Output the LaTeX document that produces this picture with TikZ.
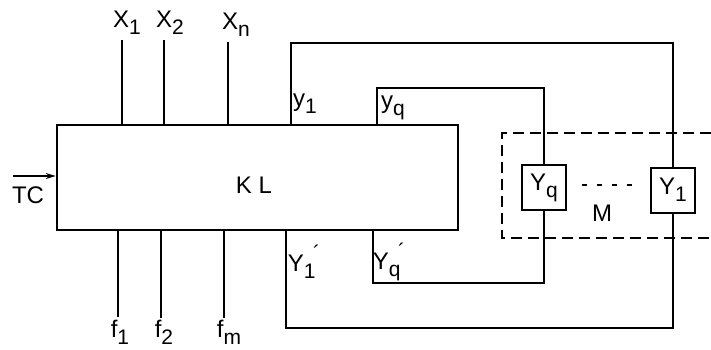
\documentclass[tikz,border=0pt]{standalone}
\usepackage{fontspec}
\setmainfont{Liberation Sans}
\usetikzlibrary{arrows.meta, positioning, calc}
\newcommand{\lowsub}[1]{\raisebox{-0.55ex}{\fontsize{10.5}{11}\selectfont #1}}
\newcommand{\lowsubp}[1]{\raisebox{-0.55ex}{\fontsize{10.5}{11}\selectfont #1}\kern-0.1em\raisebox{0.9ex}{\fontsize{10.5}{11}\selectfont ´}}

\begin{document}
\begin{tikzpicture}[
        x=0.5pt, y=-0.5pt,
        wire/.style={line width=0.7pt},
        kbox/.style={draw, line width=1.3pt, minimum width=200.5pt, minimum height=52.5pt},
        ybox/.style={draw, line width=1pt, minimum width=22pt, minimum height=22.5pt, inner sep=0pt, font=\fontsize{12}{14}\selectfont},
        lbl/.style={inner sep=0pt, font=\fontsize{12}{14}\selectfont},
        frame/.style={line width=1.1pt, dash pattern=on 5.5pt off 3pt}
    ]
        \useasboundingbox (0,0) rectangle (711,349);

        % Main block
        \node[kbox] (kl) at (257.5,177.5) {};
        \node[lbl] (kltext) at (254,185) {K L};

        % Inputs X
        \coordinate (x1) at (122,40);
        \coordinate (x2) at (164,40);
        \coordinate (xn) at (228,42);
        \draw[wire] (x1) -- (x1 |- kl.north);
        \draw[wire] (x2) -- (x2 |- kl.north);
        \draw[wire] (xn) -- (xn |- kl.north);
        \node[lbl] (x1text) at (127,23) {X\lowsub{1}};
        \node[lbl] (x2text) at (170,23) {X\lowsub{2}};
        \node[lbl] (xntext) at (236,25) {X\lowsub{n}};

        % Outputs f
        \coordinate (f1) at (118,317);
        \coordinate (f2) at (161,318);
        \coordinate (fm) at (224,318);
        \draw[wire] (f1 |- kl.south) -- (f1);
        \draw[wire] (f2 |- kl.south) -- (f2);
        \draw[wire] (fm |- kl.south) -- (fm);
        \node[lbl] (f1text) at (120,332) {f\lowsub{1}};
        \node[lbl] (f2text) at (164,332) {f\lowsub{2}};
        \node[lbl] (fmtext) at (229,332) {f\lowsub{m}};

        % Clock input
        \coordinate (tcin) at (13,176);
        \draw[wire, -{Stealth[length=5pt, width=3pt]}] (tcin) -- (tcin -| kl.west);
        \node[lbl] (tctext) at (28,195) {TC};

        % Memory M
        \node[ybox] (yqbox) at (544,187.5) {Y\lowsub{q}};
        \node[ybox] (y1box) at (673,190) {Y\lowsub{1}};
        \draw[frame] (711,133) -- (502,133) -- (502,238) -- (711,238);
        \coordinate (dotl) at (582,185);
        \coordinate (dotr) at (633,185);
        \draw[wire, dash pattern=on 2.5pt off 5pt] (dotl) -- (dotr);
        \node[lbl] (mtext) at (602,213) {M};

        % Feedback loops
        \coordinate (ya) at (291,43);
        \coordinate (yb) at (286,328);
        \coordinate (yc) at (377,88);
        \coordinate (yd) at (373,283);
        \draw[wire] (ya |- kl.north) -- (ya) -| (y1box.north);
        \draw[wire] (y1box.south) |- (yb) -- (yb |- kl.south);
        \draw[wire] (yc |- kl.north) -- (yc) -| (yqbox.north);
        \draw[wire] (yqbox.south) |- (yd) -- (yd |- kl.south);
        \node[lbl] (y1text) at (305,104) {y\lowsub{1}};
        \node[lbl] (yqtext) at (393,108) {y\lowsub{q}};
        \node[lbl] (y1ptext) at (304,262) {Y\lowsubp{1}};
        \node[lbl] (yqptext) at (389,262) {Y\lowsubp{q}};
    \end{tikzpicture}
\end{document}
